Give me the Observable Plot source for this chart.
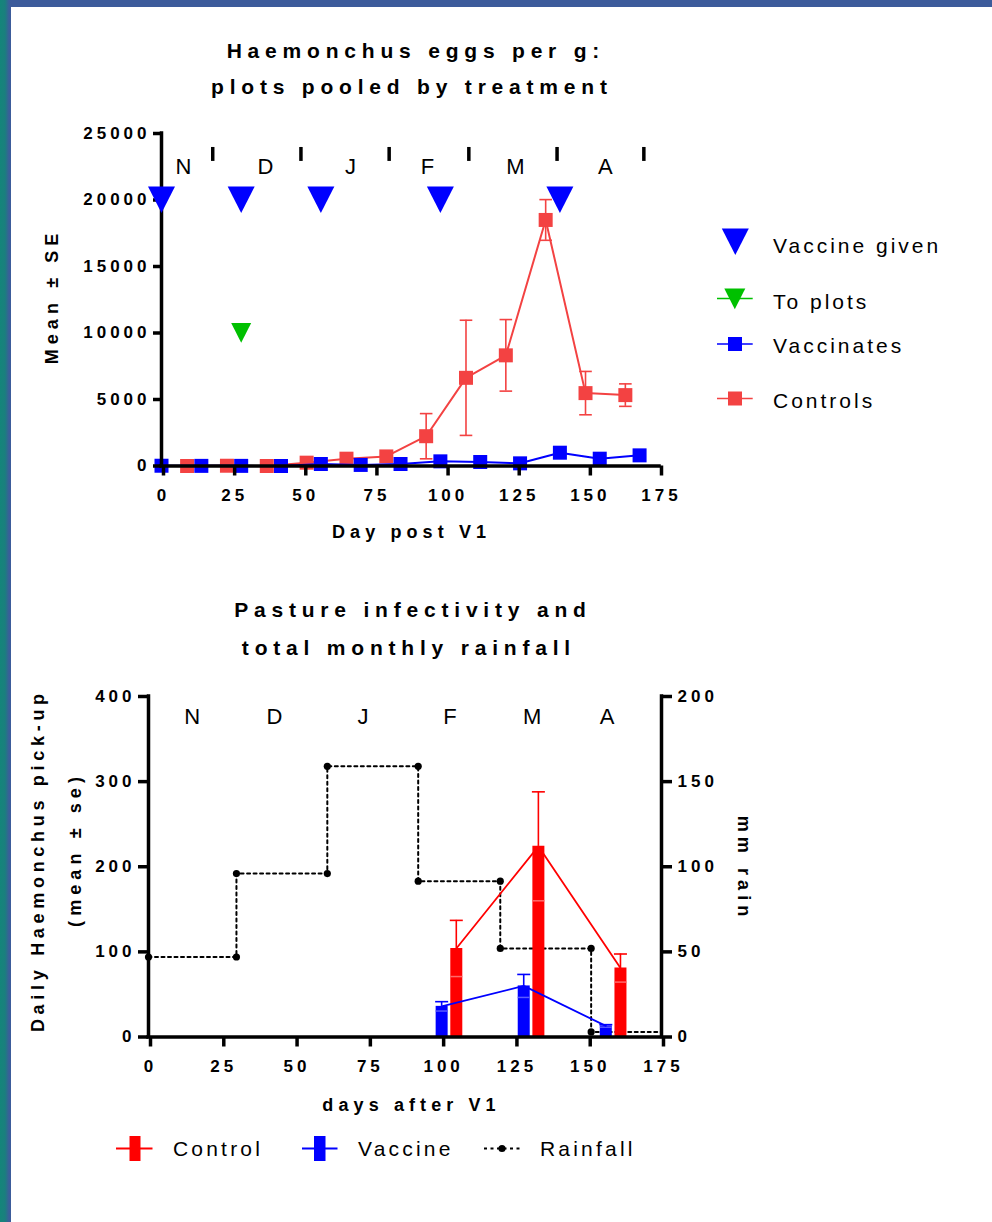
<!DOCTYPE html>
<html><head><meta charset="utf-8">
<script src="https://cdn.jsdelivr.net/npm/d3@7"></script>
<script src="https://cdn.jsdelivr.net/npm/@observablehq/plot@0.6"></script>
<style>
html,body{margin:0;padding:0;background:#fff}
#page{position:relative;width:992px;height:1222px;overflow:hidden;background:#fff;font-family:"Liberation Sans",Arial,sans-serif;color:#000}
.abs{position:absolute;white-space:nowrap;line-height:1}
.chart{position:absolute}
.chart svg g[aria-label$="tick label"] text{letter-spacing:4px}
</style>
</head><body><div id="page"></div>
<script>
// ---------- DATA ----------
// Top chart: Haemonchus eggs per g
const xTicks = [0, 25, 50, 75, 100, 125, 150, 175];
const xTickLabels = ["0", "25", "50", "75", "100", "125", "150", "175"];
const yTicksTop = [0, 5000, 10000, 15000, 20000, 25000];
const yTickLabelsTop = ["0", "5000", "10000", "15000", "20000", "25000"];

const monthNames = ["N", "D", "J", "F", "M", "A"];
const monthLabelDaysTop = [7.7, 36.5, 66.4, 93.5, 124.4, 156];
const monthLabelLevelTop = 22500;
const monthBoundaryDays = [18, 49, 80, 108, 139, 169.5];

const vaccineGivenDays = [0, 28, 56, 98, 140];
const vaccineGivenLevel = 20000;
const toPlotsDays = [28];
const toPlotsLevel = 10000;

const vaccDays = [0, 14, 28, 42, 56, 70, 84, 98, 112, 126, 140, 154, 168];
const vaccMeans = [20, 10, 10, 0, 150, 80, 150, 350, 300, 200, 1000, 550, 800];

const ctrlDays = [9, 23, 37, 51, 65, 79, 93, 107, 121, 135, 149, 163];
const ctrlMeans = [0, 20, 0, 250, 550, 720, 2240, 6630, 8320, 18500, 5480, 5330];
const ctrlSE = [0, 0, 0, 0, 0, 0, 1700, 4330, 2690, 1530, 1630, 845];

// Bottom chart: pasture infectivity and rainfall
const yTicksBottom = [0, 100, 200, 300, 400];
const yTickLabelsBottom = ["0", "100", "200", "300", "400"];
const rainTicks = [0, 50, 100, 150, 200];
const rainTickLabels = ["0", "50", "100", "150", "200"];
const monthLabelDaysBottom = [14.9, 43, 73.2, 102.8, 130.9, 156.4];
const monthLabelLevelBottom = 376;

const rainDays = [0, 30, 61, 92, 120, 151];
const rainMM = [47, 96, 159, 91.5, 52, 3];

const ctrlPickDays = [105, 133, 161];
const ctrlPick = [104, 224, 81];
const ctrlPickSE = [33, 64, 16.5];
const vaccPickDays = [100, 128, 156];
const vaccPick = [36, 60, 13];
const vaccPickSE = [5.5, 13.5, 1.5];

// ---------- STYLE ----------
const FONT = '"Liberation Sans", Arial, sans-serif';
const RED_T = "#f34242";
const BLUE = "#0000ff";
const GREEN = "#00c000";
const RED = "#ff0000";
const RED_LIGHT = "#ff6a6a";
const BLUE_LIGHT = "#5a5aff";
const RAIN_SCALE = 400 / 200; // right axis (mm) mapped onto left axis

const page = document.getElementById("page");

function addText(str, x, y, o = {}) {
  const size = o.size || 20, sp = o.spacing || 0, anchor = o.anchor || "middle", rot = o.rotate || 0;
  const d = document.createElement("div");
  d.className = "abs";
  d.textContent = str;
  d.style.fontSize = size + "px";
  d.style.fontWeight = o.weight || "normal";
  d.style.letterSpacing = sp + "px";
  d.style.left = x + "px";
  d.style.top = y + "px";
  if (anchor === "middle") {
    d.style.paddingLeft = sp + "px";
    d.style.transform = `translate(-50%,-50%) rotate(${rot}deg)`;
  } else {
    d.style.transform = `translate(0,-50%)`;
  }
  page.appendChild(d);
  return d;
}

// border stripes
(function () {
  const top = document.createElement("div");
  top.style.cssText = "position:absolute;left:0;top:0;width:992px;height:7px;background:#3c5b9b";
  page.appendChild(top);
  const left = document.createElement("div");
  left.style.cssText = "position:absolute;left:0;top:0;width:11px;height:1222px;background:linear-gradient(to right,#14857a 0px,#1a7f7e 5px,#3a5e9a 9px,#3c5b9b 11px)";
  page.appendChild(left);
})();

const downTriangle = {
  draw(ctx, size) {
    const r = Math.sqrt(size / Math.PI);
    ctx.moveTo(-r, -r); ctx.lineTo(r, -r); ctx.lineTo(0, r * 0.97); ctx.closePath();
  }
};
const capSymbol = {
  draw(ctx, size) {
    const r = Math.sqrt(size / Math.PI);
    ctx.moveTo(-r, 0); ctx.lineTo(r, 0);
  }
};

function labelMap(ticks, labels) { const m = new Map(ticks.map((t, i) => [t, labels[i]])); return d => m.get(d); }

// ---------- TOP CHART ----------
const ctrl = ctrlDays.map((d, i) => ({ day: d, mean: ctrlMeans[i], se: ctrlSE[i] }));
const ctrlErr = ctrl.filter(d => d.se > 0);
const vacc = vaccDays.map((d, i) => ({ day: d, mean: vaccMeans[i] }));

const topChart = Plot.plot({
  width: 700, height: 460,
  marginLeft: 161, marginRight: 41, marginTop: 33, marginBottom: 94.5,
  x: { domain: [0, 175] },
  y: { domain: [0, 25000] },
  style: { fontFamily: FONT, fontSize: "16px", overflow: "visible", background: "none", color: "#000" },
  marks: [
    Plot.ruleX(ctrlErr, { x: "day", y1: d => d.mean - d.se, y2: d => d.mean + d.se, stroke: RED_T, strokeWidth: 1.6 }),
    Plot.dot(ctrlErr, { x: "day", y: d => d.mean + d.se, symbol: capSymbol, r: 6.3, stroke: RED_T, strokeWidth: 1.6, fill: "none" }),
    Plot.dot(ctrlErr, { x: "day", y: d => d.mean - d.se, symbol: capSymbol, r: 6.3, stroke: RED_T, strokeWidth: 1.6, fill: "none" }),
    Plot.line(ctrl, { x: "day", y: "mean", stroke: RED_T, strokeWidth: 2 }),
    Plot.dot(ctrl, { x: "day", y: "mean", symbol: "square", r: 7.9, fill: RED_T, stroke: "none" }),
    Plot.line(vacc, { x: "day", y: "mean", stroke: BLUE, strokeWidth: 2 }),
    Plot.dot(vacc, { x: "day", y: "mean", symbol: "square", r: 7.9, fill: BLUE, stroke: "none" }),
    Plot.ruleY([0], { stroke: "#000", strokeWidth: 3.5, strokeLinecap: "square" }),
    Plot.ruleX([0], { stroke: "#000", strokeWidth: 3.5, strokeLinecap: "square" }),
    Plot.axisX({ ticks: xTicks, tickFormat: labelMap(xTicks, xTickLabels), tickSize: 10, tickPadding: 13, strokeWidth: 3.5, fontSize: 17, fontWeight: "bold", label: null, dx: 2 }),
    Plot.axisY({ ticks: yTicksTop, tickFormat: labelMap(yTicksTop, yTickLabelsTop), tickSize: 8, tickPadding: 3, strokeWidth: 3.5, fontSize: 17, fontWeight: "bold", label: null }),
    Plot.ruleX(monthBoundaryDays, { x: d => d, y1: 22900, y2: 23950, stroke: "#000", strokeWidth: 3.5 }),
    Plot.text(monthNames, { x: (d, i) => monthLabelDaysTop[i], y: monthLabelLevelTop, text: d => d, fontSize: 22, fill: "#000" }),
    Plot.dot(vaccineGivenDays, { x: d => d, y: vaccineGivenLevel, symbol: downTriangle, r: 13.5, fill: BLUE, stroke: "none" }),
    Plot.dot(toPlotsDays, { x: d => d, y: toPlotsLevel, symbol: downTriangle, r: 10, fill: GREEN, stroke: "none" })
  ]
});
const topWrap = document.createElement("div");
topWrap.className = "chart";
topWrap.style.left = "0px"; topWrap.style.top = "100px";
topWrap.appendChild(topChart);
page.appendChild(topWrap);

// ---------- BOTTOM CHART ----------
const xMax = 175;
const rainLine = rainDays.map((d, i) => ({ day: d, mm: rainMM[i] }));
rainLine.push({ day: xMax, mm: rainMM[rainMM.length - 1] });
const rainCorners = [];
rainDays.forEach((d, i) => {
  rainCorners.push({ day: d, mm: rainMM[i] });
  if (i < rainDays.length - 1) rainCorners.push({ day: rainDays[i + 1], mm: rainMM[i] });
});
const cp = ctrlPickDays.map((d, i) => ({ day: d, mean: ctrlPick[i], se: ctrlPickSE[i] }));
const vp = vaccPickDays.map((d, i) => ({ day: d, mean: vaccPick[i], se: vaccPickSE[i] }));

const bottomChart = Plot.plot({
  width: 800, height: 440,
  marginLeft: 148, marginRight: 139, marginTop: 36, marginBottom: 63.5,
  x: { domain: [0, xMax] },
  y: { domain: [0, 400] },
  style: { fontFamily: FONT, fontSize: "16px", overflow: "visible", background: "none", color: "#000" },
  marks: [
    Plot.line(rainLine, { x: "day", y: d => d.mm * RAIN_SCALE, curve: "step-after", stroke: "#000", strokeWidth: 2, strokeDasharray: "3,3.5" }),
    Plot.dot(rainCorners, { x: "day", y: d => d.mm * RAIN_SCALE, r: 3.6, fill: "#000", stroke: "none" }),
    Plot.ruleX(vp, { x: "day", y1: 0, y2: "mean", stroke: BLUE, strokeWidth: 12 }),
    Plot.ruleX(cp, { x: "day", y1: 0, y2: "mean", stroke: RED, strokeWidth: 12 }),
    Plot.dot(vp, { x: "day", y: d => d.mean - d.se, symbol: capSymbol, r: 6, stroke: BLUE_LIGHT, strokeWidth: 1.5, fill: "none" }),
    Plot.dot(cp, { x: "day", y: d => d.mean - d.se, symbol: capSymbol, r: 6, stroke: RED_LIGHT, strokeWidth: 1.5, fill: "none" }),
    Plot.ruleX(vp, { x: "day", y1: "mean", y2: d => d.mean + d.se, stroke: BLUE, strokeWidth: 1.6 }),
    Plot.dot(vp, { x: "day", y: d => d.mean + d.se, symbol: capSymbol, r: 6.5, stroke: BLUE, strokeWidth: 1.6, fill: "none" }),
    Plot.ruleX(cp, { x: "day", y1: "mean", y2: d => d.mean + d.se, stroke: RED, strokeWidth: 1.6 }),
    Plot.dot(cp, { x: "day", y: d => d.mean + d.se, symbol: capSymbol, r: 6.5, stroke: RED, strokeWidth: 1.6, fill: "none" }),
    Plot.line(vp, { x: "day", y: "mean", stroke: BLUE, strokeWidth: 1.8 }),
    Plot.line(cp, { x: "day", y: "mean", stroke: RED, strokeWidth: 1.8 }),
    Plot.ruleY([0], { stroke: "#000", strokeWidth: 3.5, strokeLinecap: "square" }),
    Plot.ruleX([0, xMax], { stroke: "#000", strokeWidth: 3.5, strokeLinecap: "square" }),
    Plot.axisX({ ticks: xTicks, tickFormat: labelMap(xTicks, xTickLabels), tickSize: 10, tickPadding: 13, strokeWidth: 3.5, fontSize: 17, fontWeight: "bold", label: null, dx: 2 }),
    Plot.axisY({ ticks: yTicksBottom, tickFormat: labelMap(yTicksBottom, yTickLabelsBottom), tickSize: 10, tickPadding: 3, strokeWidth: 3.5, fontSize: 17, fontWeight: "bold", label: null }),
    Plot.axisY({ anchor: "right", ticks: rainTicks.map(v => v * RAIN_SCALE), tickFormat: labelMap(rainTicks.map(v => v * RAIN_SCALE), rainTickLabels), tickSize: 10, tickPadding: 6, strokeWidth: 3.5, fontSize: 17, fontWeight: "bold", label: null }),
    Plot.text(monthNames, { x: (d, i) => monthLabelDaysBottom[i], y: monthLabelLevelBottom, text: d => d, fontSize: 22, fill: "#000" })
  ]
});
const botWrap = document.createElement("div");
botWrap.className = "chart";
botWrap.style.left = "0px"; botWrap.style.top = "660px";
botWrap.appendChild(bottomChart);
page.appendChild(botWrap);

// ---------- TEXTS ----------
const TB = { size: 21, weight: "bold", spacing: 5.8 };
addText("Haemonchus eggs per g:", 413, 50, TB);
addText("plots pooled by treatment", 409, 86, TB);
addText("Pasture infectivity and", 410, 609, TB);
addText("total monthly rainfall", 406, 647, TB);

const AX = { size: 18, weight: "bold", spacing: 5.1 };
addText("Mean ± SE", 52, 299, { ...AX, rotate: -90 });
addText("Day post V1", 409, 532, AX);
addText("days after V1", 409, 1105, AX);
addText("Daily Haemonchus pick-up", 38, 863, { ...AX, spacing: 4.7, rotate: -90 });
addText("(mean ± se)", 75, 852, { ...AX, rotate: -90 });
addText("mm rain", 744, 866, { ...AX, rotate: 90 });

// ---------- LEGENDS ----------
const LG = { size: 21, spacing: 3, anchor: "start" };
addText("Vaccine given", 773, 245, LG);
addText("To plots", 773, 300.5, LG);
addText("Vaccinates", 773, 345, LG);
addText("Controls", 773, 400, LG);

const LB = { size: 21, spacing: 3.2, anchor: "start" };
addText("Control", 173, 1148, LB);
addText("Vaccine", 358, 1148, LB);
addText("Rainfall", 540, 1148, LB);

const lsvg = d3.select(page).append("svg")
  .attr("width", 992).attr("height", 1222)
  .style("position", "absolute").style("left", 0).style("top", 0).style("pointer-events", "none");
function tri(cx, cy, r, fill) {
  lsvg.append("path").attr("d", `M${cx - r},${cy - r}L${cx + r},${cy - r}L${cx},${cy + r * 0.97}Z`).attr("fill", fill);
}
// top legend
tri(735.3, 242, 13.5, BLUE);
lsvg.append("line").attr("x1", 717).attr("x2", 752.7).attr("y1", 298.5).attr("y2", 298.5).attr("stroke", GREEN).attr("stroke-width", 1.6);
tri(734.8, 299, 10.5, GREEN);
lsvg.append("line").attr("x1", 717).attr("x2", 752.7).attr("y1", 344).attr("y2", 344).attr("stroke", BLUE).attr("stroke-width", 1.6);
lsvg.append("rect").attr("x", 728).attr("y", 337).attr("width", 14).attr("height", 14).attr("fill", BLUE);
lsvg.append("line").attr("x1", 717).attr("x2", 752.7).attr("y1", 398.5).attr("y2", 398.5).attr("stroke", RED_T).attr("stroke-width", 1.6);
lsvg.append("rect").attr("x", 728).attr("y", 391.5).attr("width", 14).attr("height", 14).attr("fill", RED_T);
// bottom legend
lsvg.append("line").attr("x1", 116).attr("x2", 152.5).attr("y1", 1148.5).attr("y2", 1148.5).attr("stroke", RED).attr("stroke-width", 1.8);
lsvg.append("rect").attr("x", 129.5).attr("y", 1136).attr("width", 11).attr("height", 25).attr("fill", RED);
lsvg.append("line").attr("x1", 302).attr("x2", 337.5).attr("y1", 1148.5).attr("y2", 1148.5).attr("stroke", BLUE).attr("stroke-width", 1.8);
lsvg.append("rect").attr("x", 314).attr("y", 1136).attr("width", 11.5).attr("height", 25).attr("fill", BLUE);
lsvg.append("line").attr("x1", 484).attr("x2", 520).attr("y1", 1148.5).attr("y2", 1148.5).attr("stroke", "#000").attr("stroke-width", 2).attr("stroke-dasharray", "3,3.5");
lsvg.append("circle").attr("cx", 502).attr("cy", 1148.5).attr("r", 3.6).attr("fill", "#000");
</script>
</body></html>
